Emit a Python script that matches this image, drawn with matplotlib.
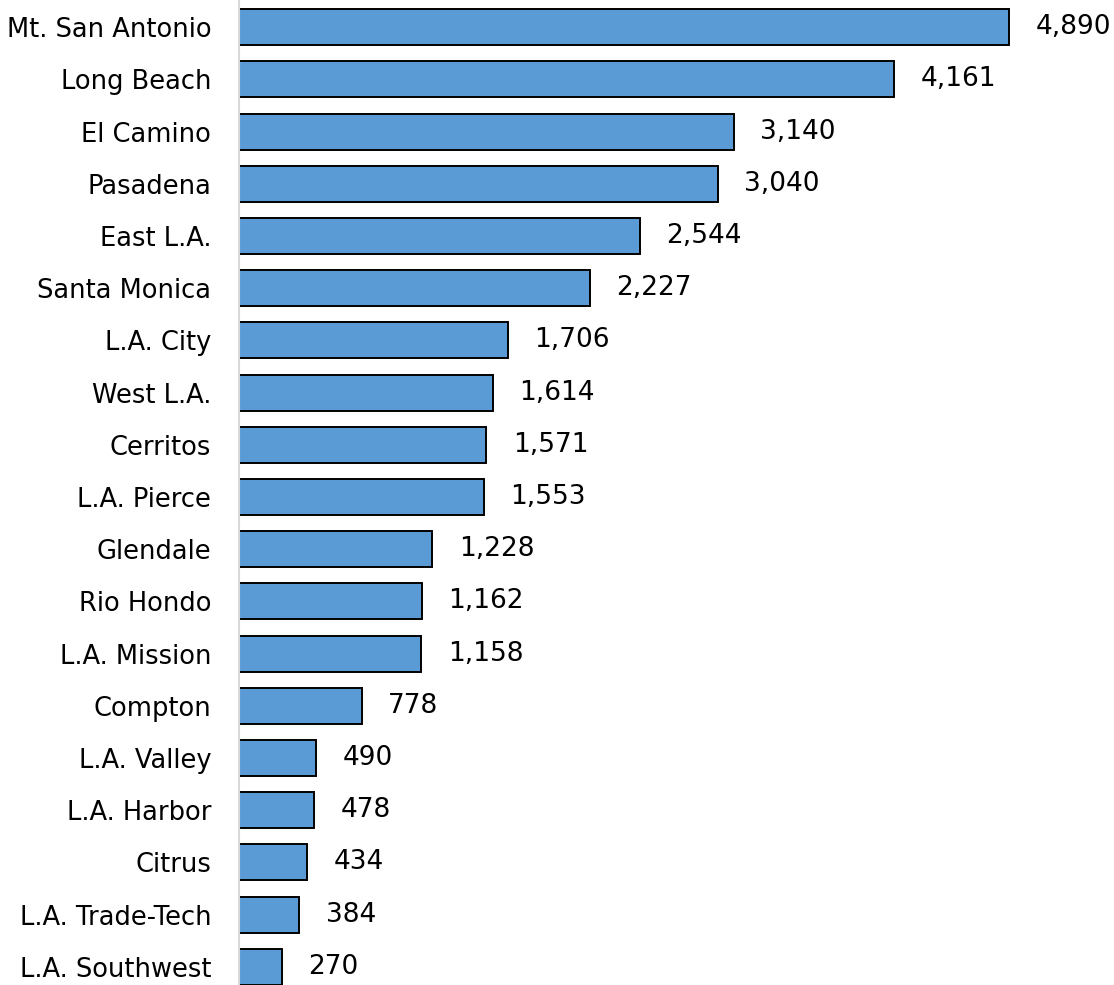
import matplotlib.pyplot as plt

colleges = ['Mt. San Antonio', 'Long Beach', 'El Camino', 'Pasadena', 'East L.A.',
            'Santa Monica', 'L.A. City', 'West L.A.', 'Cerritos', 'L.A. Pierce',
            'Glendale', 'Rio Hondo', 'L.A. Mission', 'Compton', 'L.A. Valley',
            'L.A. Harbor', 'Citrus', 'L.A. Trade-Tech', 'L.A. Southwest']
values = [4890, 4161, 3140, 3040, 2544, 2227, 1706, 1614, 1571, 1553,
          1228, 1162, 1158, 778, 490, 478, 434, 384, 270]

plt.rcParams['font.family'] = ['DejaVu Sans']

fig = plt.figure(figsize=(11.14, 9.85), dpi=100)
ax = fig.add_axes([239 / 1114, 0, 1 - 239 / 1114, 1])

ypos = list(range(len(colleges)))
ax.barh(ypos, values, height=0.69, color='#5B9BD5', edgecolor='black', linewidth=1.4)

for y, v in zip(ypos, values):
    ax.annotate(f'{v:,}', (v, y), xytext=(19, 0), textcoords='offset points',
                va='center', ha='left', fontsize=19)

ax.set_yticks(ypos)
ax.set_yticklabels(colleges, fontsize=18.5)
ax.tick_params(axis='y', length=0, pad=20)
ax.set_xticks([])
ax.set_xlim(0, 5556)
ax.set_ylim(18.35, -0.52)

for s in ['top', 'right', 'bottom']:
    ax.spines[s].set_visible(False)
ax.spines['left'].set_color('#d9d9d9')
ax.spines['left'].set_linewidth(1.5)

fig.savefig('out.png', dpi=100)
